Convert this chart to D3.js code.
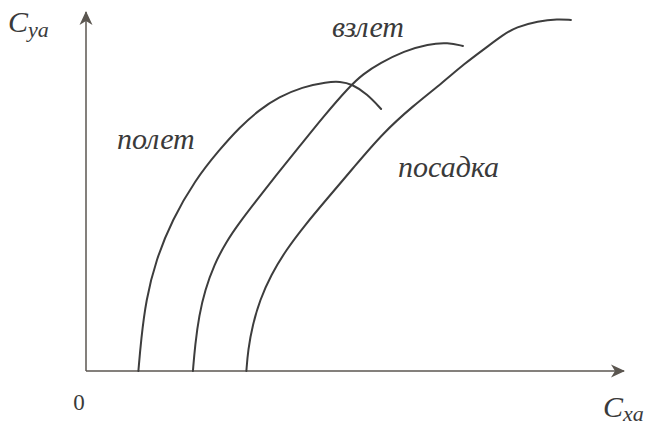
<!DOCTYPE html>
<html>
<head>
<meta charset="utf-8">
<script src="https://cdn.jsdelivr.net/npm/d3@7"></script>
<style>
  html, body { margin: 0; padding: 0; background: #fff; }
  svg { display: block; }
</style>
</head>
<body>
<svg id="chart" width="647" height="427"></svg>
<script>
// Lift polar curves Cya(Cxa) for three wing configurations
const seriesNames = ["полет", "взлет", "посадка"];

const poletCxa = [0.0194, 0.0204, 0.0222, 0.0259, 0.0319, 0.0404, 0.0493, 0.0570, 0.0641, 0.0715, 0.0800, 0.0893, 0.0941, 0.0985, 0.1041, 0.1093];
const poletCya = [0.000, 0.207, 0.473, 0.740, 1.007, 1.273, 1.473, 1.627, 1.740, 1.827, 1.893, 1.927, 1.930, 1.913, 1.847, 1.747];

const vzletCxa = [0.0396, 0.0404, 0.0419, 0.0441, 0.0474, 0.0519, 0.0570, 0.0633, 0.0711, 0.0789, 0.0881, 0.0974, 0.1026, 0.1089, 0.1178, 0.1267, 0.1341, 0.1396];
const vzletCya = [0.000, 0.173, 0.373, 0.540, 0.707, 0.860, 0.993, 1.140, 1.320, 1.493, 1.700, 1.893, 1.980, 2.053, 2.133, 2.180, 2.190, 2.167];

const posadkaCxa = [0.0594, 0.0600, 0.0617, 0.0644, 0.0685, 0.0741, 0.0811, 0.0889, 0.0996, 0.1100, 0.1211, 0.1319, 0.1400, 0.1485, 0.1544, 0.1593, 0.1674, 0.1748, 0.1796];
const posadkaCya = [0.000, 0.140, 0.307, 0.473, 0.640, 0.807, 0.973, 1.140, 1.367, 1.587, 1.767, 1.920, 2.047, 2.160, 2.240, 2.293, 2.333, 2.347, 2.340];

// Where each curve name sits, in chart units (Cxa, Cya)
const labelCxa = [0.0115, 0.0911, 0.1156];
const labelCya = [1.480, 2.227, 1.293];

const serif = "Liberation Serif";
const inkColor = "#3a3a3a";

const svg = d3.select("#chart");
const margin = { left: 86, top: 11, right: 21, bottom: 56 };
const W = 647, H = 427;

const x = d3.scaleLinear().domain([0, 0.2]).range([margin.left, W - margin.right]);
const y = d3.scaleLinear().domain([0, 2.4]).range([H - margin.bottom, margin.top]);

const axisColor = "#5b5650";

// Barbed arrowheads for the axis ends
const defs = svg.append("defs");
defs.append("marker")
  .attr("id", "arrow")
  .attr("markerUnits", "userSpaceOnUse")
  .attr("viewBox", "-15 -8 17 16")
  .attr("markerWidth", 17).attr("markerHeight", 16)
  .attr("refX", 0).attr("refY", 0)
  .attr("orient", "auto")
  .append("path")
  .attr("d", "M1,0 L-13,-6.5 L-9,0 L-13,6.5 Z")
  .attr("fill", axisColor);

// Axes: bare domain lines with arrows, no ticks
const xAxis = d3.axisBottom(x).tickValues([]).tickSizeOuter(0);
const yAxis = d3.axisLeft(y).tickValues([]).tickSizeOuter(0);

const gx = svg.append("g").attr("transform", `translate(0,${y(0)})`).call(xAxis);
const gy = svg.append("g").attr("transform", `translate(${x(0)},0)`).call(yAxis);

gx.select(".domain")
  .attr("d", `M${x(0)},0H${x(0.2) - 2}`)
  .attr("stroke", axisColor).attr("stroke-width", 1.5)
  .attr("marker-end", "url(#arrow)");
gy.select(".domain")
  .attr("d", `M0,${y(0)}V${y(2.4) + 1}`)
  .attr("stroke", axisColor).attr("stroke-width", 1.5)
  .attr("marker-end", "url(#arrow)");

// Curves (B-spline through the sampled polar points for a smooth pen-drawn look)
const series = [
  d3.zip(poletCxa, poletCya),
  d3.zip(vzletCxa, vzletCya),
  d3.zip(posadkaCxa, posadkaCya)
];

const line = d3.line()
  .x(d => x(d[0]))
  .y(d => y(d[1]))
  .curve(d3.curveBasis);

svg.append("g")
  .selectAll("path")
  .data(series)
  .join("path")
  .attr("d", line)
  .attr("fill", "none")
  .attr("stroke", "#3d3d3d")
  .attr("stroke-width", 2)
  .attr("stroke-linecap", "round");

// Italic serif text anchored at its baseline
function italic(px, py, size) {
  return svg.append("text")
    .attr("x", px).attr("y", py)
    .attr("font-family", serif)
    .attr("font-style", "italic")
    .attr("font-size", size)
    .attr("fill", inkColor);
}

// Curve names
seriesNames.forEach((name, i) => {
  italic(x(labelCxa[i]), y(labelCya[i]), 30).text(name);
});

// Axis titles
function axisTitle(px, py, sub, subDy) {
  const t = italic(px, py, 30);
  t.append("tspan").text("C");
  t.append("tspan").attr("font-size", 22).attr("dy", subDy).text(sub);
}
axisTitle(8, 32, "ya", 5);
axisTitle(603, 417, "xa", 4);

// Origin
svg.append("text")
  .attr("x", x(0) - 7).attr("y", 410)
  .attr("text-anchor", "middle")
  .attr("font-family", serif)
  .attr("font-size", 23)
  .attr("fill", inkColor)
  .text("0");
</script>
</body>
</html>
